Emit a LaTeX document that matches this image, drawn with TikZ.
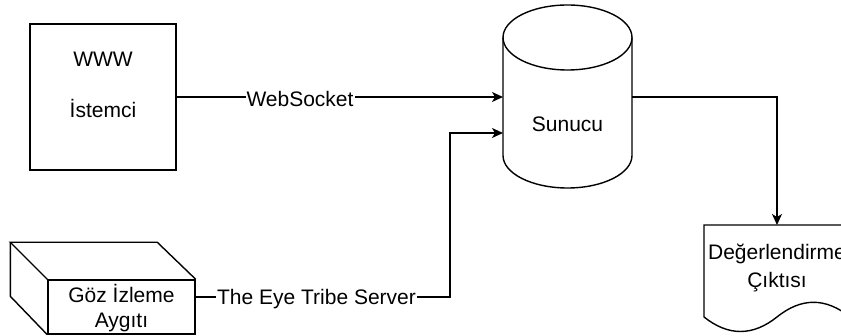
\documentclass[tikz,border=0pt]{standalone}
\usepackage{fontspec}
\setmainfont{Liberation Sans}
\usetikzlibrary{arrows.meta}
\begin{document}
\begin{tikzpicture}[x=1pt,y=1pt,line width=1.4pt,
  every node/.style={font=\fontsize{21}{25}\selectfont, inner sep=0pt},
  txt/.style={anchor=base},
  lbl/.style={anchor=base, fill=white, inner xsep=1pt, inner ysep=2pt},
  arr/.style={-{Stealth[length=11pt,width=10pt,inset=3pt]}}]
\useasboundingbox (0,0) rectangle (841,336);
\clip (0,0) rectangle (841,336);
\fill[white] (0,0) rectangle (841,336);

% WWW client box
\node[draw, minimum width=146pt, minimum height=146pt] (www) at (103,239) {};
\node[txt] (wwwt) at (103,269) {WWW};
\node[txt] (ist) at (103,218) {İstemci};

% Server cylinder
\node[minimum width=129pt, minimum height=183pt] (srv) at (567.5,239.5) {};
\draw[fill=white] (503,298.5) -- (503,180.5) arc[start angle=180, end angle=360, x radius=64.5, y radius=32.5] -- (632,298.5);
\draw (567.5,298.5) ellipse [x radius=64.5, y radius=32.5];
\node[txt] (srvt) at (567.5,204) {Sunucu};
\coordinate (srvin1) at (503,239);
\coordinate (srvin2) at (503,203);
\coordinate (srvout) at (632,239);

% Eye tracker cube
\node[draw, minimum width=147pt, minimum height=54pt] (eye) at (121.5,29) {};
\draw (eye.north west) -- ++(-37,37) coordinate (eb) -- ++(147,0) -- (eye.north east);
\draw (eb) -- ++(0,-54) -- (eye.south west);
\node[txt] (eyet1) at (121.5,33) {Göz İzleme};
\node[txt] (eyet2) at (121.5,8) {Aygıtı};
\coordinate (eyeout) at (195,39);
\coordinate (bend1) at (450,39);
\coordinate (bend2) at (450,203);

% Output document
\node[minimum width=146pt, minimum height=108pt] (doc) at (777,65) {};
\draw (704,111) -- (850,111) -- (850,19)
  .. controls (825.67,38.6) and (801.33,38.6) .. (777,19)
  .. controls (752.67,-0.33) and (728.33,-0.33) .. (704,19) -- cycle;
\node[txt] (doct1) at (777,76) {Değerlendirme};
\node[txt] (doct2) at (777,48) {Çıktısı};
\coordinate (docin) at (777,111);
\coordinate (bend3) at (777,239);

% Connectors
\draw[arr] (www.east) -- (srvin1);
\node[lbl] (wsl) at (300,229) {WebSocket};
\draw[arr] (eyeout) -- (bend1) -- (bend2) -- (srvin2);
\node[lbl] (etl) at (316.5,31) {The Eye Tribe Server};
\draw[arr] (srvout) -- (bend3) -- (docin);
\end{tikzpicture}
\end{document}
